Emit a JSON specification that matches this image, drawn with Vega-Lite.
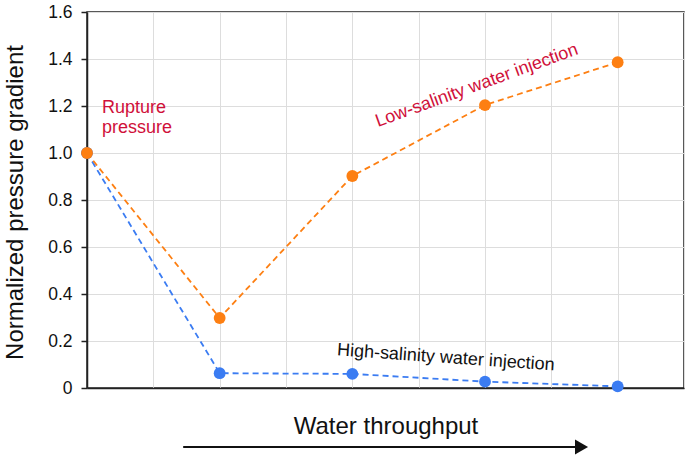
{
  "$schema": "https://vega.github.io/schema/vega-lite/v6.json",
  "width": 597,
  "height": 376,
  "autosize": {"type": "none"},
  "padding": {"left": 87, "top": 12, "right": 1, "bottom": 67},
  "background": "white",
  "config": {
    "font": "Liberation Sans",
    "view": {"stroke": "#222222", "strokeWidth": 1.5}
  },
  "datasets": {
    "series": [
      {"x": 0, "y": 1.0, "series": "High-salinity"},
      {"x": 2, "y": 0.063, "series": "High-salinity"},
      {"x": 4, "y": 0.06, "series": "High-salinity"},
      {"x": 6, "y": 0.027, "series": "High-salinity"},
      {"x": 8, "y": 0.007, "series": "High-salinity"},
      {"x": 0, "y": 1.0, "series": "Low-salinity"},
      {"x": 2, "y": 0.298, "series": "Low-salinity"},
      {"x": 4, "y": 0.902, "series": "Low-salinity"},
      {"x": 6, "y": 1.204, "series": "Low-salinity"},
      {"x": 8, "y": 1.386, "series": "Low-salinity"}
    ],
    "notes": [
      {"id": "rupture", "x": 0.226, "y": 1.17, "label": "Rupture\npressure"},
      {"id": "low", "x": 5.877, "y": 1.286, "label": "Low-salinity water injection"},
      {"id": "high", "x": 5.41, "y": 0.128, "label": "High-salinity water injection"}
    ],
    "arrow": [{"x0": 1.45, "x1": 7.36, "y": -0.251, "tip": 7.455}]
  },
  "layer": [
    {
      "data": {"name": "series"},
      "mark": {
        "type": "line",
        "strokeDash": [6, 4],
        "strokeWidth": 1.8,
        "point": {"filled": true, "size": 140, "opacity": 1}
      },
      "encoding": {
        "x": {
          "field": "x",
          "type": "quantitative",
          "scale": {"domain": [0, 9], "nice": false, "zero": false},
          "axis": {
            "values": [0, 1, 2, 3, 4, 5, 6, 7, 8, 9],
            "labels": false,
            "ticks": false,
            "domain": true,
            "domainColor": "#222222",
            "domainWidth": 1.5,
            "grid": true,
            "gridColor": "#dddddd",
            "gridWidth": 1,
            "title": "Water throughput",
            "titleFontSize": 24,
            "titleFontWeight": "normal",
            "titleColor": "#111111",
            "titlePadding": 26
          }
        },
        "y": {
          "field": "y",
          "type": "quantitative",
          "scale": {"domain": [0, 1.6], "nice": false},
          "axis": {
            "values": [0, 0.2, 0.4, 0.6, 0.8, 1.0, 1.2, 1.4, 1.6],
            "labelExpr": "datum.value == 0 ? '0' : format(datum.value, '.1f')",
            "labelFontSize": 17.5,
            "labelColor": "#111111",
            "labelPadding": 9,
            "tickSize": 6,
            "tickColor": "#222222",
            "tickWidth": 1.5,
            "domainColor": "#222222",
            "domainWidth": 1.5,
            "grid": true,
            "gridColor": "#dddddd",
            "gridWidth": 1,
            "title": "Normalized pressure gradient",
            "titleFontSize": 24,
            "titleFontWeight": "normal",
            "titleColor": "#111111",
            "titleAngle": -90,
            "titleAlign": "center",
            "titleBaseline": "alphabetic",
            "titleX": -65,
            "titleY": 190
          }
        },
        "color": {
          "field": "series",
          "type": "nominal",
          "scale": {"domain": ["High-salinity", "Low-salinity"], "range": ["#3b7cf2", "#fd7f12"]},
          "legend": null
        }
      }
    },
    {
      "data": {"name": "notes"},
      "transform": [{"filter": "datum.id == 'rupture'"}],
      "mark": {"type": "text", "align": "left", "baseline": "alphabetic", "fontSize": 18, "lineHeight": 20, "lineBreak": "\n", "color": "#d0103a"},
      "encoding": {
        "x": {"field": "x", "type": "quantitative"},
        "y": {"field": "y", "type": "quantitative"},
        "text": {"field": "label"}
      }
    },
    {
      "data": {"name": "notes"},
      "transform": [{"filter": "datum.id == 'low'"}],
      "mark": {"type": "text", "align": "center", "baseline": "middle", "fontSize": 18, "angle": -20, "color": "#d0103a"},
      "encoding": {
        "x": {"field": "x", "type": "quantitative"},
        "y": {"field": "y", "type": "quantitative"},
        "text": {"field": "label"}
      }
    },
    {
      "data": {"name": "notes"},
      "transform": [{"filter": "datum.id == 'high'"}],
      "mark": {"type": "text", "align": "center", "baseline": "middle", "fontSize": 18, "angle": 4, "color": "#111111"},
      "encoding": {
        "x": {"field": "x", "type": "quantitative"},
        "y": {"field": "y", "type": "quantitative"},
        "text": {"field": "label"}
      }
    },
    {
      "data": {"name": "arrow"},
      "mark": {"type": "rule", "strokeWidth": 2, "color": "#111111"},
      "encoding": {
        "x": {"field": "x0", "type": "quantitative"},
        "x2": {"field": "x1"},
        "y": {"field": "y", "type": "quantitative"}
      }
    },
    {
      "data": {"name": "arrow"},
      "mark": {"type": "point", "shape": "M-0.87,-1L0.87,0L-0.87,1Z", "size": 225, "filled": true, "color": "#111111", "opacity": 1, "strokeWidth": 0},
      "encoding": {
        "x": {"field": "tip", "type": "quantitative"},
        "y": {"field": "y", "type": "quantitative"}
      }
    }
  ]
}
